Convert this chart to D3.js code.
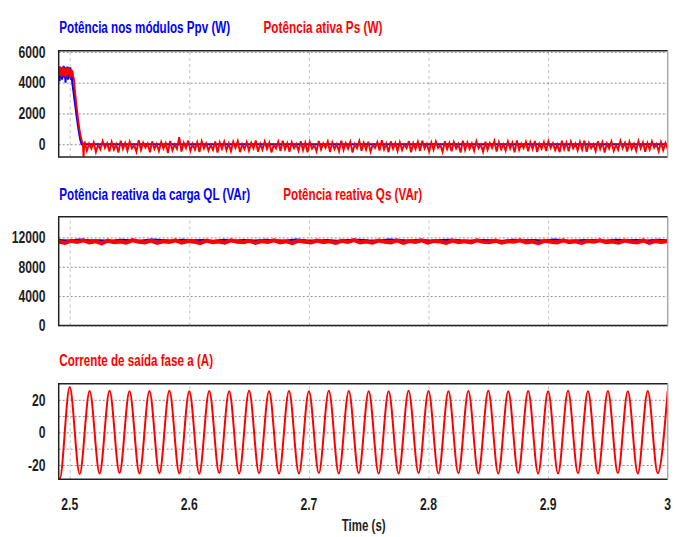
<!DOCTYPE html>
<html>
<head>
<meta charset="utf-8">
<script src="https://cdn.jsdelivr.net/npm/d3@7"></script>
<style>
  body { margin: 0; background: #fff; }
  text { font-family: "Liberation Sans", Arial, sans-serif; font-weight: bold; }
</style>
</head>
<body>
<script>
// time axis
var timeTicks = [2.5, 2.6, 2.7, 2.8, 2.9, 3];

// panel 1: PV power (blue) and active power Ps (red), W
var ppvTime  = [2.4908, 2.4912, 2.4916, 2.4920, 2.4925, 2.4930, 2.4935, 2.4940, 2.4945, 2.4950,
                2.4955, 2.4960, 2.4965, 2.4970, 2.4975, 2.4980, 2.4985, 2.4990, 2.4995, 2.5000,
                2.5005, 2.5010, 2.5015, 2.5020, 2.5030, 2.5040, 2.5050, 2.5060, 2.5070, 2.5080,
                2.5090, 2.5100, 3.0];
var ppvValue = [4300, 5000, 4100, 5050, 4500, 5000, 4200, 4900, 4400, 5100,
                4300, 5000, 4000, 4900, 4600, 5050, 4200, 5000, 4500, 4300,
                5000, 4200, 4800, 4100, 3500, 2900, 2300, 1700, 1150, 650,
                250, 0, 0];
var psTime   = [2.4908, 2.4912, 2.4916, 2.4920, 2.4924, 2.4928, 2.4932, 2.4936, 2.4940, 2.4944,
                2.4948, 2.4952, 2.4956, 2.4960, 2.4964, 2.4968, 2.4972, 2.4976, 2.4980, 2.4984,
                2.4988, 2.4992, 2.4996, 2.5000, 2.5004, 2.5008, 2.5012, 2.5016, 2.5020, 2.5024,
                2.5028, 2.5034, 2.5042, 2.5052, 2.5062, 2.5072, 2.5082, 2.5092, 2.5102, 2.5110,
                2.5116, 2.5120];
var psValue  = [4600, 4950, 4450, 5000, 4500, 4900, 4400, 4850, 4550, 5050,
                4450, 4950, 4600, 4900, 4350, 4800, 4500, 5000, 4400, 4850,
                4600, 4950, 4500, 4800, 4300, 4900, 4450, 4850, 4500, 4750,
                4400, 4300, 3600, 2850, 2150, 1500, 950, 500, 200, 0,
                -840, -200];
var psNoiseStart = 2.5125;
var psNoise = [
  180,-420, 40,-280, 120,-510, -20,-330, 210,-240, 70,-460, 150,-350, 10,-540, 230,-300, 90,-410,
  160,-260, -40,-480, 260,-370, 110,-220, 50,-520, 190,-310, 20,-440, 140,-280, 80,-560, 220,-390,
  -10,-300, 470,-470, 100,-250, 240,-430, 30,-340, 130,-500, 200,-270, 60,-410, -30,-360, 180,-530,
  120,-290, 170,-380, 50,-450, 160,-230, 210,-510, 0,-320, 140,-420, 90,-260, 250,-480, 40,-350,
  190,-300, 110,-540, -20,-270, 170,-440, 230,-330, 70,-490, 130,-250, 20,-420, 200,-380, 100,-520,
  150,-280, -40,-460, 210,-340, 60,-230, 180,-500, 120,-310, 10,-450, 240,-370, 80,-290, 160,-530,
  30,-260, 220,-420, 100,-350, 170,-480, -10,-240, 140,-400, 260,-330, 50,-510, 190,-290, 90,-440,
  130,-370, 0,-250, 210,-520, 70,-310, 160,-430, 230,-280, 40,-470, 120,-360, 180,-240, -30,-500,
  200,-320, 90,-450, 150,-270, 20,-540, 240,-380, 110,-300, 60,-420, 190,-260, -20,-490, 170,-350,
  80,-230, 220,-470, 130,-330, 0,-410, 180,-280, 100,-520, 250,-370, 40,-250, 160,-450, 120,-310,
  210,-500, 30,-290, 140,-430, 190,-240, 70,-380, -10,-510, 230,-320, 110,-460, 170,-270, 50,-400,
  150,-350, 240,-480, 90,-260, 10,-440, 200,-310, 130,-530, 60,-280, 180,-420, -40,-360, 220,-250,
  100,-470, 160,-300, 40,-410, 210,-270, 120,-490, 80,-340, 190,-230, 20,-450, 140,-380, 90,-300
];
var p1Ticks = [0, 2000, 4000, 6000];

// panel 2: reactive power of load QL (blue) and Qs (red), VAr
var qlValue = [11640,11580,11700,11600,11620,11560,11680,11610,11590,11710,
               11630,11570,11670,11600,11650,11560,11690,11590,11640,11580,
               11680,11610,11570,11700,11620,11590,11660,11560,11650,11690,
               11600,11580,11700,11630,11590,11670,11570,11640,11690,11610,
               11580,11650,11620,11560,11680,11600,11640,11590,11710,11610,
               11570,11660,11630,11580,11680,11600,11650,11570,11690,11620];
var qsValue = [11420,11250,11530,11380,11600,11300,11470,11200,11550,11350,
               11450,11280,11620,11400,11320,11560,11250,11480,11370,11590,
               11300,11510,11420,11230,11570,11360,11450,11290,11600,11400,
               11330,11540,11260,11490,11380,11610,11310,11460,11220,11550,
               11410,11300,11580,11350,11470,11240,11530,11390,11620,11320,
               11440,11270,11560,11400,11310,11590,11250,11500,11380,11600,
               11290,11520,11430,11240,11570,11350,11460,11300,11610,11390,
               11340,11550,11270,11480,11400,11600,11320,11450,11230,11540,
               11420,11310,11590,11360,11480,11260,11520,11400,11610,11330,
               11450,11280,11570,11390,11320,11580,11260,11490,11370,11500];
var p2Ticks = [0, 4000, 8000, 12000];

// panel 3: output current phase a, A (peaks / troughs every half cycle of 60 Hz)
var currentStart = 2.48333;
var currentHalfPeriod = 1 / 120;
var currentExtrema = [
  25.3, -28.6, 27.8, -25.6, 25.4, -25.2, 25.5, -25.0, 25.3, -25.3,
  25.4, -25.1, 25.5, -25.2, 25.3, -25.4, 25.4, -25.0, 25.2, -25.3,
  25.5, -25.1, 25.3, -25.2, 25.4, -25.3, 25.3, -25.0, 25.5, -25.2,
  25.4, -25.1, 25.3, -25.3, 25.2, -25.2, 25.5, -25.0, 25.4, -25.3,
  25.3, -25.1, 25.4, -25.2, 25.5, -25.3, 25.3, -25.0, 25.4, -25.2,
  25.2, -25.3, 25.5, -25.1, 25.3, -25.2, 25.4, -25.0, 25.3, -25.3,
  25.4, -25.1, 25.3
];
var p3Ticks = [-20, 0, 20];
var p3Grid = [-20, -10, 0, 10, 20];

var w = 676, h = 537;
var blue = "#0000ff", red = "#ff0000", ink = "#1e1e1e";
var squeeze = 0.76;   // the reference type is very condensed

var svg = d3.select("body").append("svg")
    .attr("width", w)
    .attr("height", h);

var x = d3.scaleLinear().domain([2.4908, 3]).range([58.7, 667.7]);

function panel(id, y, ticks, grid) {
  var bottom = y.range()[0], top = y.range()[1];
  var left = x.range()[0], right = x.range()[1];
  var g = svg.append("g");

  svg.append("clipPath").attr("id", id)
    .append("rect")
    .attr("x", left).attr("y", top)
    .attr("width", right - left).attr("height", bottom - top);

  // vertical grid
  g.append("g")
    .attr("transform", "translate(0," + bottom + ")")
    .call(d3.axisBottom(x).tickValues(timeTicks.slice(0, -1)).tickSize(-(bottom - top)).tickFormat(""))
    .call(function(a) { a.select(".domain").remove(); })
    .selectAll("line")
    .attr("stroke", "#c4c4c4")
    .attr("stroke-dasharray", "3,3");

  // horizontal grid
  g.append("g")
    .attr("transform", "translate(" + left + ",0)")
    .call(d3.axisLeft(y).tickValues(grid).tickSize(-(right - left)).tickFormat(""))
    .call(function(a) { a.select(".domain").remove(); })
    .selectAll("line")
    .attr("stroke", "#8a8a8a")
    .attr("stroke-dasharray", "2,2");

  // tick labels
  g.selectAll(null).data(ticks).enter().append("text")
    .attr("transform", function(d) { return "translate(45.5," + y(d) + ") scale(" + squeeze + ",1)"; })
    .attr("text-anchor", "end")
    .attr("dy", "0.36em")
    .attr("font-size", 16)
    .attr("fill", ink)
    .text(function(d) { return d; });

  var plot = g.append("g").attr("clip-path", "url(#" + id + ")");

  return {
    plot: plot,
    frame: function() {
      g.append("path")
        .attr("d", "M" + right + "," + top + "H" + left + "V" + bottom + "H" + right)
        .attr("fill", "none").attr("stroke", "#222").attr("stroke-width", 1.5);
      g.append("line")
        .attr("x1", right).attr("x2", right).attr("y1", top).attr("y2", bottom)
        .attr("stroke", "#aaa").attr("stroke-width", 1.5);
    }
  };
}

function title(txt, x0, y0, len, color) {
  var t = svg.append("text")
    .attr("font-size", 17)
    .attr("fill", color)
    .text(txt);
  var s = len / t.node().getComputedTextLength();
  t.attr("transform", "translate(" + x0 + "," + y0 + ") scale(" + s + ",1)");
}

// ---- panel 1
var y1 = d3.scaleLinear().domain([-825, 6078]).range([157, 50.7]);
var p1 = panel("c1", y1, p1Ticks, p1Ticks);
var line1 = d3.line().x(function(d) { return x(d[0]); }).y(function(d) { return y1(d[1]); });
var noiseStep = (3 - psNoiseStart) / (psNoise.length - 1);
var psData = d3.zip(psTime, psValue).concat(psNoise.map(function(v, i) { return [psNoiseStart + i * noiseStep, v]; }));
p1.plot.append("path").datum(d3.zip(ppvTime, ppvValue))
  .attr("d", line1).attr("fill", "none").attr("stroke", blue).attr("stroke-width", 2);
p1.plot.append("path").datum(psData)
  .attr("d", line1).attr("fill", "none").attr("stroke", red).attr("stroke-width", 1.9);
p1.frame();
title("Potência nos módulos Ppv (W)", 59.3, 33, 171, blue);
title("Potência ativa Ps (W)", 263.5, 33, 119, red);

// ---- panel 2
var y2 = d3.scaleLinear().domain([0, 14820]).range([325.5, 216.7]);
var p2 = panel("c2", y2, p2Ticks, p2Ticks);
var line2 = d3.line().x(function(d) { return x(d[0]); }).y(function(d) { return y2(d[1]); });
function spread(vals) {
  var t0 = x.domain()[0], t1 = x.domain()[1];
  return vals.map(function(v, i) { return [t0 + i * (t1 - t0) / (vals.length - 1), v]; });
}
p2.plot.append("path").datum(spread(qlValue))
  .attr("d", line2).attr("fill", "none").attr("stroke", blue).attr("stroke-width", 2);
p2.plot.append("path").datum(spread(qsValue))
  .attr("d", line2).attr("fill", "none").attr("stroke", red).attr("stroke-width", 4);
p2.frame();
title("Potência reativa da carga QL (VAr)", 59.3, 200, 191, blue);
title("Potência reativa Qs (VAr)", 283.3, 200, 139, red);

// ---- panel 3
var y3 = d3.scaleLinear().domain([-28.8, 29.9]).range([479.3, 383.7]);
var p3 = panel("c3", y3, p3Ticks, p3Grid);
var line3 = d3.line().curve(d3.curveMonotoneX)
  .x(function(d) { return x(d[0]); }).y(function(d) { return y3(d[1]); });
var currentData = currentExtrema.map(function(v, i) { return [currentStart + i * currentHalfPeriod, v]; });
p3.plot.append("path").datum(currentData)
  .attr("d", line3).attr("fill", "none").attr("stroke", red).attr("stroke-width", 2);
p3.frame();
title("Corrente de saída fase a (A)", 59.3, 365.5, 154, red);

// time axis labels
svg.selectAll(null).data(timeTicks).enter().append("text")
  .attr("transform", function(d) { return "translate(" + x(d) + ",510) scale(" + squeeze + ",1)"; })
  .attr("text-anchor", "middle")
  .attr("font-size", 16)
  .attr("fill", ink)
  .text(function(d) { return d === 3 ? "3" : d.toFixed(1); });

title("Time (s)", 341.7, 531, 44, ink);
</script>
</body>
</html>
